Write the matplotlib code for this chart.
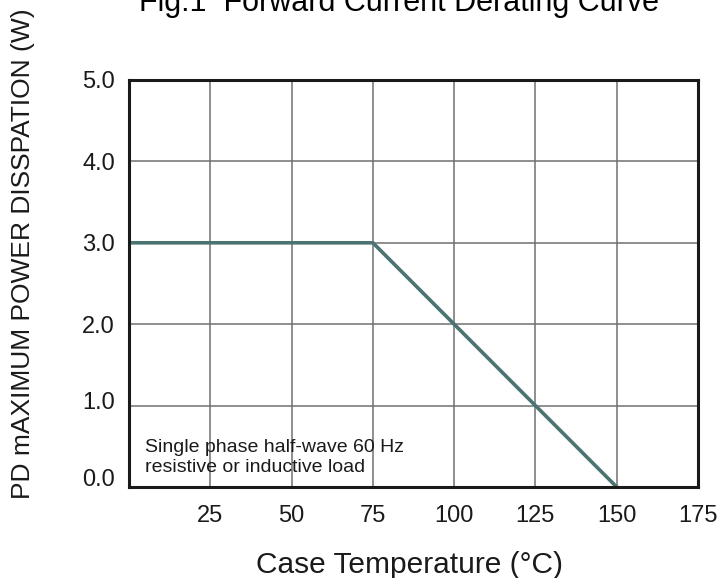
import matplotlib
matplotlib.use("Agg")
import matplotlib.pyplot as plt
import matplotlib.transforms as mtransforms

temps = [0, 75, 150]
power = [3.0, 3.0, 0.0]
xticks = [25, 50, 75, 100, 125, 150, 175]
yticks = [0.0, 1.0, 2.0, 3.0, 4.0, 5.0]
note_lines = ["Single phase half-wave 60 Hz", "resistive or inductive load"]

plt.rcParams['font.family'] = ['Liberation Sans', 'DejaVu Sans']

fig = plt.figure(figsize=(7.2, 5.78), dpi=100)
L, R, T, B = 129, 698, 80, 487
ax = fig.add_axes([L/720, 1-B/578, (R-L)/720, (B-T)/578])

ax.plot(temps, power, color='#4a7371', lw=2.6, solid_capstyle='butt', zorder=3)
ax.set_xlim(0, 175)
ax.set_ylim(0, 5)
ax.set_xticks(xticks)
ax.set_yticks(yticks)
ax.set_yticklabels([f"{v:.1f}" for v in yticks])
ax.grid(True, color='#707070', lw=1.1)
ax.tick_params(axis='both', length=0, labelsize=17, colors='#1a1a1a')
ax.tick_params(axis='y', pad=10)
ax.tick_params(axis='x', pad=13)
for s in ax.spines.values():
    s.set_linewidth(2.2)
    s.set_color('#1a1a1a')
    s.set_zorder(4)

# small upward shifts of the lowest y tick labels as in the reference
shifts = {0: 9, 1: 5}
for i, lab in enumerate(ax.get_yticklabels()):
    if i in shifts:
        lab.set_transform(lab.get_transform() +
                          mtransforms.ScaledTranslation(0, shifts[i]/100, fig.dpi_scale_trans))

ax.text(4.9, 0.43, note_lines[0], fontsize=14, va='baseline', ha='left', color='#1a1a1a')
ax.text(4.9, 0.184, note_lines[1], fontsize=14, va='baseline', ha='left', color='#1a1a1a')

fig.text(399/720, 1-11/578, "Fig.1  Forward Current Derating Curve", fontsize=22,
         ha='center', va='baseline', color='black')
fig.text(23/720, 1-254/578, "PD mAXIMUM POWER DISSPATION (W)", rotation=90,
         fontsize=19, ha='center', va='center', color='#1a1a1a')
fig.text(410/720, 1-573/578, "Case Temperature (°C)", fontsize=21.5,
         ha='center', va='baseline', color='#1a1a1a')

fig.savefig("out.png", dpi=100)
